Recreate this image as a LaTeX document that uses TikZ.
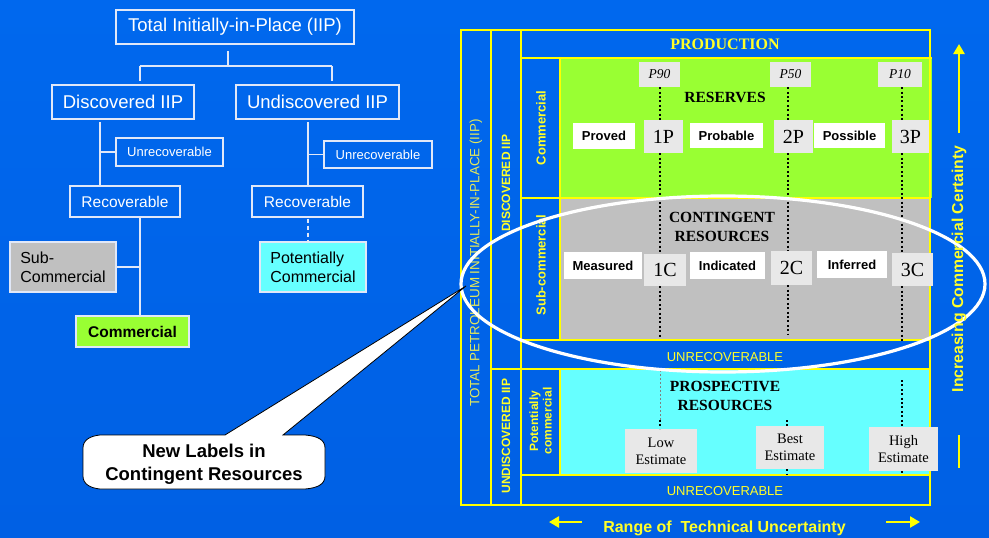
\documentclass[tikz,border=0pt]{standalone}
\usepackage{fontspec}
\setmainfont{Liberation Serif}
\setsansfont{Liberation Sans}
\usetikzlibrary{arrows.meta}
\definecolor{bgtop}{RGB}{0,104,238}
\definecolor{bgmid}{RGB}{0,80,200}
\definecolor{bgbot}{RGB}{0,96,228}
\definecolor{ylw}{RGB}{255,255,0}
\definecolor{ytext}{RGB}{255,255,40}
\definecolor{ypale}{RGB}{228,232,90}
\definecolor{grn}{RGB}{153,255,51}
\definecolor{gry}{RGB}{192,192,192}
\definecolor{cyn}{RGB}{102,255,255}
\definecolor{lbox}{RGB}{232,232,232}
\definecolor{tline}{RGB}{225,232,248}
\tikzset{
  tbox/.style={draw=tline, line width=1.1pt, text=white, inner sep=0pt, font=\sffamily},
  tl/.style={draw=tline, line width=1.3pt},
  yl/.style={draw=ylw, line width=2.4pt},
  ytxt/.style={text=ytext, inner sep=0pt, font=\sffamily},
  wbox/.style={fill=white, inner sep=0pt, font=\sffamily\bfseries\fontsize{13}{15}\selectfont},
  pbox/.style={fill=lbox, inner sep=0pt, font=\fontsize{20}{22}\selectfont},
  ebox/.style={fill=lbox, inner sep=0pt, align=center, font=\fontsize{14.5}{17}\selectfont},
  dotl/.style={draw=black, line width=2.2pt, dash pattern=on 2pt off 2.4pt},
  bigtitle/.style={inner sep=0pt, align=center, font=\bfseries\fontsize{15.5}{19}\selectfont},
  yarrow/.style={draw=ylw, line width=2.6pt, -{Triangle[length=10pt,width=11pt]}}
}
\begin{document}
\begin{tikzpicture}[x=1pt,y=-1pt]
\shade[top color=bgtop, middle color=bgmid, bottom color=bgbot] (0,0) rectangle (989,538);
\useasboundingbox (0,0) rectangle (989,538);

% ---------------- left tree ----------------
\node[tbox, minimum width=238, minimum height=34, font=\sffamily\fontsize{18.5}{21}\selectfont] (tot) at (235,27) {Total Initially-in-Place (IIP)};
\node[tbox, minimum width=142, minimum height=34, font=\sffamily\fontsize{18.5}{21}\selectfont] (disc) at (123,102) {Discovered IIP};
\node[tbox, minimum width=163, minimum height=34, font=\sffamily\fontsize{18.5}{21}\selectfont] (undisc) at (317.5,102) {Undiscovered IIP};
\node[tbox, minimum width=107, minimum height=28, font=\sffamily\fontsize{13}{15}\selectfont] (unr1) at (169.5,152) {Unrecoverable};
\node[tbox, minimum width=108, minimum height=27, font=\sffamily\fontsize{13}{15}\selectfont] (unr2) at (378,154.5) {Unrecoverable};
\node[tbox, minimum width=110, minimum height=31, font=\sffamily\fontsize{15.5}{18}\selectfont] (rec1) at (125,201.5) {Recoverable};
\node[tbox, minimum width=111, minimum height=31, font=\sffamily\fontsize{15.5}{18}\selectfont] (rec2) at (307.5,201.5) {Recoverable};
\node[tbox, fill=gry, text=black, align=left, minimum width=106, minimum height=50, font=\sffamily\fontsize{16}{19}\selectfont] (sub) at (63,267) {Sub-\\Commercial};
\node[tbox, fill=cyn, text=black, align=left, minimum width=106, minimum height=50, font=\sffamily\fontsize{16}{19}\selectfont] (pot) at (313,267) {Potentially\\Commercial};
\node[tbox, fill=grn, text=black, minimum width=113, minimum height=31, font=\sffamily\bfseries\fontsize{15.5}{18}\selectfont] (com) at (132.5,331.5) {Commercial};

\coordinate (h66) at (0,66);
\coordinate (tv) at (228,51);
\coordinate (jL) at (140,66);
\coordinate (jR) at (332,66);
\draw[tl] (tv) -- (tv |- h66);
\draw[tl] (jL) -- (jR);
\draw[tl, shorten >=3pt] (jL) -- (jL |- disc.north);
\draw[tl, shorten >=3pt] (jR) -- (jR |- undisc.north);
\coordinate (dv) at (100,122);
\draw[tl] (dv) -- (dv |- rec1.north);
\draw[tl] (dv |- unr1.west) -- (unr1.west);
\coordinate (rv) at (140,218);
\draw[tl] (rv) -- (rv |- com.north);
\draw[tl] (rv |- sub.east) -- (sub.east);
\coordinate (uv) at (308,122);
\coordinate (uw) at (308,218.5);
\draw[tl] (uv) -- (uv |- rec2.north);
\draw[tl] (uv |- unr2.west) -- (unr2.west);
\draw[tl, dash pattern=on 4pt off 3pt] (uw) -- (pot.north -| uw);

% ---------------- right diagram ----------------
\fill[grn] (560,58) rectangle (932,198);
\fill[gry] (560,198) rectangle (930,340);
\fill[cyn] (560,368) rectangle (930,475);

\draw[yl] (461,30) rectangle (930,505);
\draw[yl] (491,30) -- (491,505);
\draw[yl] (521,30) -- (521,505);
\draw[yl] (521,58) -- (932,58);
\draw[yl] (521,198) -- (930,198);
\draw[yl] (521,340) -- (930,340);
\draw[yl] (491,369) -- (930,369);
\draw[yl] (521,475) -- (930,475);
\draw[yl] (560,58) -- (560,340);
\draw[yl] (560,369) -- (560,475);

\node[ytxt, font=\bfseries\fontsize{16}{18}\selectfont] (prod) at (725,44) {PRODUCTION};
\node[ytxt, text=ypale, rotate=90, font=\sffamily\fontsize{13.4}{15}\selectfont] (totl) at (476,263) {TOTAL PETROLEUM INITIALLY-IN-PLACE (IIP)};
\node[ytxt, rotate=90, font=\sffamily\bfseries\fontsize{12}{14}\selectfont] (discl) at (506,183) {DISCOVERED IIP};
\node[ytxt, rotate=90, font=\sffamily\bfseries\fontsize{12}{14}\selectfont] (undiscl) at (506,436) {UNDISCOVERED IIP};
\node[ytxt, rotate=90, font=\sffamily\bfseries\fontsize{13}{15}\selectfont] (coml) at (541,128) {Commercial};
\node[ytxt, rotate=90, font=\sffamily\bfseries\fontsize{13}{15}\selectfont] (subl) at (541,265) {Sub-commercial};
\node[ytxt, rotate=90, align=center, font=\sffamily\bfseries\fontsize{12}{13.5}\selectfont] (potl) at (540.5,421) {Potentially\\commercial};
\node[ytxt, font=\sffamily\fontsize{13}{15}\selectfont] (unrA) at (725,357) {UNRECOVERABLE};
\node[ytxt, font=\sffamily\fontsize{13}{15}\selectfont] (unrB) at (725,491) {UNRECOVERABLE};

% reserves
\node[fill=lbox, inner sep=0pt, minimum width=41, minimum height=25, font=\itshape\fontsize{13.5}{15}\selectfont] (p90) at (659.5,74.5) {P90};
\node[fill=lbox, inner sep=0pt, minimum width=41, minimum height=25, font=\itshape\fontsize{13.5}{15}\selectfont] (p50) at (790.5,74.5) {P50};
\node[fill=lbox, inner sep=0pt, minimum width=44, minimum height=25, font=\itshape\fontsize{13.5}{15}\selectfont] (p10) at (900,74.5) {P10};
\node[bigtitle] (resv) at (725,97) {RESERVES};
\node[wbox, minimum width=62, minimum height=26] (proved) at (604,136) {Proved};
\node[pbox, minimum width=39, minimum height=33] (p1) at (663.5,136.5) {1P};
\node[wbox, minimum width=73, minimum height=25] (prob) at (726.5,135.5) {Probable};
\node[pbox, minimum width=39, minimum height=33] (p2) at (793.5,136.5) {2P};
\node[wbox, minimum width=71, minimum height=25] (poss) at (849.5,135.5) {Possible};
\node[pbox, minimum width=37, minimum height=33] (p3) at (910.5,136.5) {3P};

% contingent
\node[bigtitle] (cont) at (722,227) {CONTINGENT\\RESOURCES};
\node[wbox, minimum width=78, minimum height=27] (meas) at (603,265.5) {Measured};
\node[pbox, minimum width=42, minimum height=32] (c1) at (665,270) {1C};
\node[wbox, minimum width=75, minimum height=27] (ind) at (727.5,265.5) {Indicated};
\node[pbox, minimum width=41, minimum height=34] (c2) at (791.5,268) {2C};
\node[wbox, minimum width=70, minimum height=27] (inf) at (852,264.5) {Inferred};
\node[pbox, minimum width=41, minimum height=33] (c3) at (912.5,269.5) {3C};

% dotted lines
\coordinate (g1) at (660,338);
\coordinate (g2) at (788,334);
\coordinate (g3) at (902,342);
\draw[dotl] (p90.south -| g1) -- (p1.north -| g1);
\draw[dotl] (p1.south -| g1) -- (c1.north -| g1);
\draw[dotl] (c1.south -| g1) -- (g1);
\draw[dotl] (p50.south -| g2) -- (p2.north -| g2);
\draw[dotl] (p2.south -| g2) -- (c2.north -| g2);
\draw[dotl] (c2.south -| g2) -- (g2);
\draw[dotl] (p10.south -| g3) -- (p3.north -| g3);
\draw[dotl] (p3.south -| g3) -- (c3.north -| g3);
\draw[dotl] (c3.south -| g3) -- (g3);

% prospective
\node[bigtitle] (prosp) at (725,396) {PROSPECTIVE\\RESOURCES};
\node[ebox, minimum width=72, minimum height=44] (low) at (661,451) {Low\\Estimate};
\node[ebox, minimum width=68, minimum height=43] (best) at (790,447.5) {Best\\Estimate};
\node[ebox, minimum width=69, minimum height=44] (high) at (903.5,449) {High\\Estimate};
\coordinate (q1a) at (660,370);
\coordinate (q1b) at (660,420);
\coordinate (q2a) at (787,420);
\coordinate (q2b) at (787,475);
\coordinate (q3a) at (902,380);
\coordinate (q3b) at (902,475);
\draw[draw=gray, line width=0.5pt, dash pattern=on 2pt off 2pt] (q1a) -- (q1b);
\draw[dotl] (q1b) -- (low.north -| q1b);
\draw[dotl] (q2a) -- (best.north -| q2a);
\draw[dotl] (best.south -| q2b) -- (q2b);
\draw[dotl] (q3a) -- (high.north -| q3a);
\draw[dotl] (high.south -| q3b) -- (q3b);

% ellipse
\draw[white, line width=3.2pt] (723,284) ellipse [x radius=262, y radius=88];

% callout
\draw[fill=white, draw=black, line width=0.8pt]
  (100,435) -- (225,435) -- (466,286) -- (283,435) -- (305,435)
  .. controls (318,436) and (325,440) .. (325,448) -- (325,476)
  .. controls (325,484) and (318,488) .. (305,489) -- (100,489)
  .. controls (90,488) and (83,484) .. (83,476) -- (83,448)
  .. controls (83,440) and (90,436) .. (100,435) -- cycle;
\node[align=center, inner sep=0pt, font=\sffamily\bfseries\fontsize{18.5}{23}\selectfont] (callt) at (204,464) {New Labels in\\Contingent Resources};

% axes labels
\node[ytxt, font=\sffamily\bfseries\fontsize{16}{18}\selectfont] (range) at (724.5,528) {Range of\ \ Technical Uncertainty};
\coordinate (la) at (582,522);
\coordinate (lb) at (549,522);
\coordinate (ra) at (886,522);
\coordinate (rb) at (920,522);
\draw[yarrow] (la) -- (lb);
\draw[yarrow] (ra) -- (rb);
\node[ytxt, rotate=90, font=\sffamily\bfseries\fontsize{15.8}{18}\selectfont] (incr) at (959,269) {Increasing Commercial Certainty};
\coordinate (ua) at (959,133);
\coordinate (ub) at (959,44);
\coordinate (va) at (959,435);
\coordinate (vb) at (959,468);
\draw[yarrow] (ua) -- (ub);
\draw[draw=ylw, line width=2.6pt] (va) -- (vb);
\end{tikzpicture}
\end{document}
